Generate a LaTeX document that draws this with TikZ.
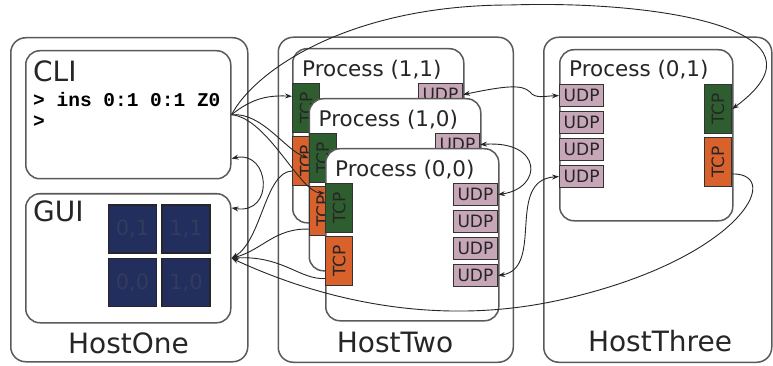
\documentclass[tikz,border=0pt]{standalone}
\usepackage{fontspec}
\usepackage{graphicx}
\setmainfont{DejaVu Sans}
\newfontfamily\cmdfont{Liberation Mono}
\usetikzlibrary{arrows.meta}

\definecolor{hostline}{HTML}{5A5A5A}
\definecolor{tcpgreen}{HTML}{2E5E2F}
\definecolor{tcporange}{HTML}{D9612B}
\definecolor{udpfill}{HTML}{C7A7B7}
\definecolor{cellfill}{HTML}{212E5E}
\definecolor{celltext}{HTML}{353B5C}

\tikzset{
  hostbox/.style={draw=hostline, line width=1.5pt, rounded corners=15pt, fill=white, inner sep=0pt},
  procbox/.style={draw=hostline, line width=1.5pt, rounded corners=14pt, fill=white, inner sep=0pt},
  bigtitle/.style={font=\fontsize{28}{30}\selectfont, text=black!85, inner sep=0pt},
  proctitle/.style={font=\fontsize{21.5}{24}\selectfont, text=black!85, inner sep=0pt, anchor=base west},
  cmdline/.style={font=\cmdfont\bfseries\fontsize{19.5}{21}\selectfont, inner sep=0pt, anchor=base west},
  portbase/.style={draw=black!80, line width=1.2pt, inner sep=0pt, font=\fontsize{17}{17}\selectfont, text=black!85},
  tcpg/.style={portbase, fill=tcpgreen, minimum width=27pt, minimum height=49pt},
  tcpo/.style={portbase, fill=tcporange, minimum width=27pt, minimum height=49pt},
  udpport/.style={portbase, fill=udpfill, minimum width=44pt, minimum height=22pt},
  cell/.style={draw=black!85, line width=1.5pt, fill=cellfill, minimum size=48pt, inner sep=0pt,
    font=\fontsize{21}{21}\selectfont, text=celltext},
  conn/.style={line width=0.9pt, draw=black!85},
  tip/.style={-{Stealth[length=7pt,width=5pt]}},
  bothtips/.style={{Stealth[length=7pt,width=5pt]}-{Stealth[length=7pt,width=5pt]}},
}

% a green/orange pair of TCP ports, top left corner given
\newcommand\tcppair[3]{%
  \node[tcpg, anchor=north west] (#1g) at (#2,#3) {\rotatebox{90}{TCP}};
  \node[tcpo, anchor=north west] (#1o) at (#2,#3+53) {\rotatebox{90}{TCP}};}
% four stacked UDP ports
\newcommand\udpstack[4]{%
  \foreach \i/\s in {1/0,2/27,3/54,4/81}
    \node[udpport, anchor=#2] (#1\i) at (#3,#4+\s) {UDP};}

\begin{document}
\begin{tikzpicture}[x=1pt, y=-1pt]
\path[use as bounding box] (0,0) rectangle (773,366);

% hosts
\node[hostbox, anchor=north west, minimum width=237pt, minimum height=324pt] (h1) at (10,37) {};
\node[hostbox, anchor=north west, minimum width=235pt, minimum height=325pt] (h2) at (277.5,36.5) {};
\node[hostbox, anchor=north west, minimum width=228pt, minimum height=325pt] (h3) at (543,36.5) {};
\node[bigtitle, anchor=base] (h1t) at (128.5,353) {HostOne};
\node[bigtitle, anchor=base] (h2t) at (395,352) {HostTwo};
\node[bigtitle, anchor=base] (h3t) at (660,351) {HostThree};

% HostOne: command line and grid view
\node[procbox, anchor=north west, minimum width=205pt, minimum height=128pt] (cli) at (25,50) {};
\node[bigtitle, anchor=base west] (clit) at (33,82) {CLI};
\node[cmdline] (cmd1) at (33,107) {> ins 0:1 0:1 Z0};
\node[cmdline] (cmd2) at (33,128) {>};

\node[procbox, anchor=north west, minimum width=205pt, minimum height=129pt] (gui) at (25,193) {};
\node[bigtitle, anchor=base west] (guit) at (33,221) {GUI};
\node[cell] (c01) at (132.5,229) {0,1};
\node[cell] (c11) at (186,229) {1,1};
\node[cell] (c00) at (132.5,282.5) {0,0};
\node[cell] (c10) at (186,282.5) {1,0};

% HostTwo: three stacked processes (only the front one shows all its UDP ports)
\node[procbox, anchor=north west, minimum width=171pt, minimum height=174pt] (p11) at (292,48) {};
\node[proctitle] (p11t) at (302,77) {Process (1,1)};
\tcppair{ta}{292}{83}
\node[udpport, anchor=north east] (ua1) at (463,83) {UDP};

\node[procbox, anchor=north west, minimum width=171.5pt, minimum height=172pt] (p10) at (308.5,98) {};
\node[proctitle] (p10t) at (318.5,127) {Process (1,0)};
\tcppair{tb}{308.5}{133}
\node[udpport, anchor=north east] (ub1) at (480,133) {UDP};

\node[procbox, anchor=north west, minimum width=173pt, minimum height=172pt] (p00) at (325,148) {};
\node[proctitle] (p00t) at (335,177) {Process (0,0)};
\tcppair{tc}{325}{183}
\udpstack{uc}{north east}{498}{183}

% HostThree: one process
\node[procbox, anchor=north west, minimum width=173pt, minimum height=171pt] (p01) at (559,49) {};
\node[proctitle] (p01t) at (569,77) {Process (0,1)};
\udpstack{ud}{north west}{559}{84}
\node[tcpg, anchor=north east] (tdg) at (732,84) {\rotatebox{90}{TCP}};
\node[tcpo, anchor=north east] (tdo) at (732,137) {\rotatebox{90}{TCP}};

% command line to the green TCP ports
\draw[conn, tip] (cli.east) .. controls (255,70) and (350,5) .. (510,5)
  .. controls (660,0) and (840,30) .. (tdg.east);
\draw[conn, tip] (cli.east) .. controls (250,100) and (265,95) .. (tag.140);
\draw[conn, tip] (cli.east) .. controls (262,112) and (285,150) .. (tbg.west);
\draw[conn, tip] (cli.east) .. controls (268,118) and (300,193) .. (tcg.133);

% command line <-> grid view
\draw[conn, bothtips] (cli.-23) .. controls (270,150) and (275,215) .. (gui.26);

% orange TCP ports to the grid view
\draw[conn, tip] (tao.215) .. controls (265,172) and (262,240) .. (gui.east);
\draw[conn, tip] (tbo.232) .. controls (275,228) and (262,250) .. (gui.east);
\draw[conn, tip] (tco.231) .. controls (300,280) and (282,255) .. (gui.east);
\draw[conn, tip] (tdo.-40) .. controls (785,173) and (740,260) .. (560,300)
  .. controls (420,331) and (300,290) .. (gui.east);

% UDP links
\draw[conn, bothtips] (ua1.east) .. controls (505,86) and (522,84) .. (530,92)
  .. controls (535,99) and (545,96) .. (ud1.west);
\draw[conn, bothtips] (ub1.east) .. controls (543,140) and (543,188) .. (uc1.east);
\draw[conn, bothtips] (uc4.east) .. controls (545,268) and (505,180) .. (ud4.west);
\end{tikzpicture}
\end{document}
